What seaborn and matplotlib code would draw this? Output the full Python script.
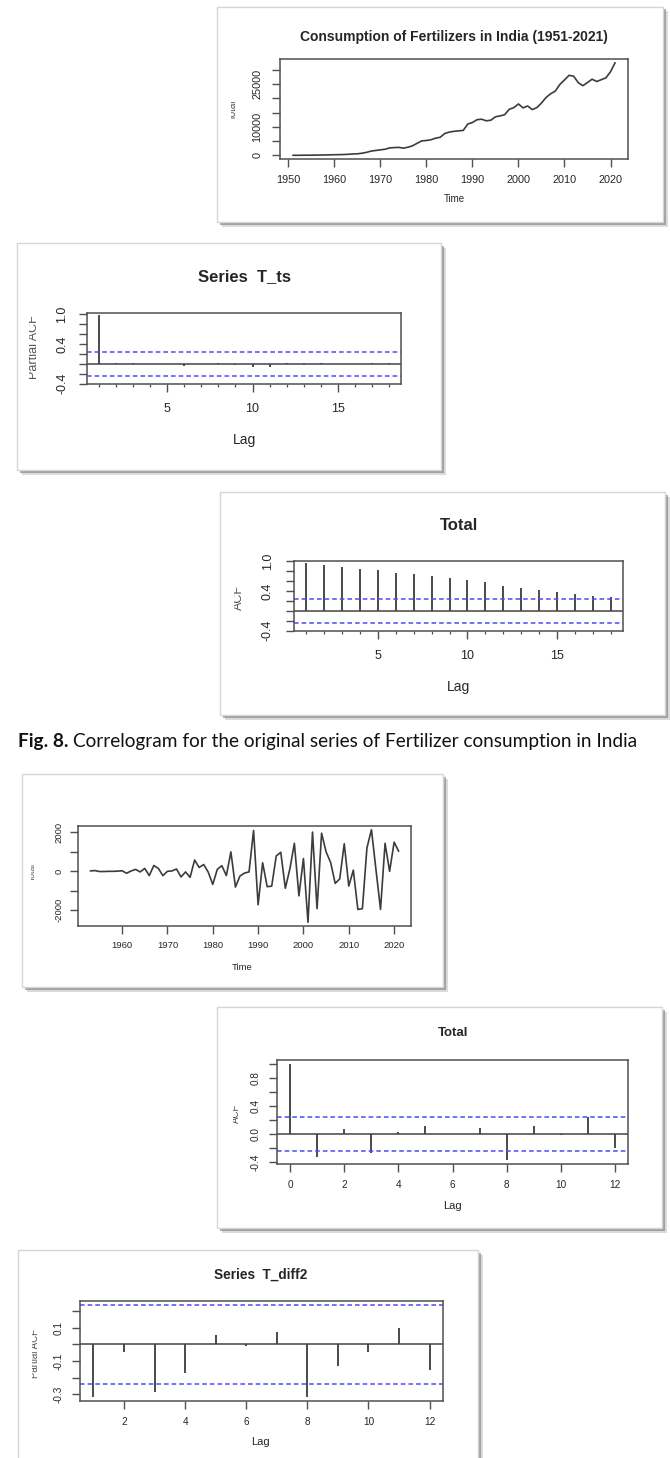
import matplotlib
matplotlib.use("Agg")
import matplotlib.pyplot as plt
from matplotlib.patches import Rectangle
from matplotlib.transforms import Bbox, TransformedBbox
import seaborn as sns

W, H = 670, 1458

# fertilizer consumption, 1951-2021
years = list(range(1951, 2022))
total = [70, 66, 86, 95, 105, 131, 154, 185, 224, 270, 292, 338, 416, 535, 595,
         785, 1101, 1539, 1761, 1982, 2177, 2657, 2768, 2839, 2573, 2894, 3411,
         4286, 5117, 5256, 5516, 6064, 6388, 7710, 8211, 8474, 8645, 8784, 11040,
         11568, 12546, 12728, 12155, 12366, 13564, 13876, 14308, 16188, 16798,
         18069, 16702, 17360, 16094, 16798, 18398, 20340, 21652, 22570, 24909,
         26486, 28122, 27790, 25536, 24482, 25581, 26753, 25949, 26588, 27227,
         29368, 32540]

# twice differenced series, 1953-2021
diff_years = list(range(1953, 2022))
diff2 = [20, 40, -10, -10, 0, 0, 10, 30, -100, 20, 100, -30, 150, -220, 300, 150,
         -220, 0, 20, 120, -290, -30, -310, 580, 200, 350, -40, -670, 100, 290,
         -220, 1000, -810, -240, -90, -30, 2100, -1720, 440, -790, -760, 790, 980,
         -870, 120, 1440, -1260, 660, -2620, 2020, -1920, 1960, 1000, 450, -620,
         -390, 1420, -760, 60, -1960, -1920, 1200, 2140, 70, -1960, 1440, 0, 1500,
         1030]

lags18 = list(range(1, 19))
pacf_orig = [0.976, 0.02, 0.02, 0.0, 0.0, -0.04, 0.0, 0.01, -0.03, -0.07, -0.06,
             0.01, 0.01, 0.01, 0.0, 0.0, 0.01, 0.02]
acf_orig = [0.976, 0.923, 0.889, 0.855, 0.822, 0.774, 0.741, 0.707, 0.673, 0.626,
            0.579, 0.512, 0.471, 0.424, 0.377, 0.343, 0.310, 0.276]

lags0_12 = list(range(0, 13))
acf_d2 = [1.0, -0.324, 0.067, -0.267, 0.024, 0.119, -0.005, 0.081, -0.371, 0.119,
          -0.01, 0.248, -0.195]
lags1_12 = list(range(1, 13))
pacf_d2 = [-0.315, -0.046, -0.289, -0.174, 0.057, -0.008, 0.075, -0.319, -0.129,
           -0.048, 0.099, -0.154]

band_orig = 0.237
band_d2 = 0.238

caption_bold = 'Fig. 8.'
caption_text = 'Correlogram for the original series of Fertilizer consumption in India'

sns.set_theme(style="white")
plt.rcParams['font.family'] = ['Liberation Sans', 'DejaVu Sans']

fig = plt.figure(figsize=(W / 100, H / 100), dpi=100)
fig.patch.set_facecolor('white')

TXT = '#262626'
AXC = '#505050'
LINE = '#3c3c3c'


def fx(x):
    return x / W


def fy(y):
    return 1 - y / H


def frame(x0, y0, x1, y1):
    for off, a in [(4.5, 0.25), (2.5, 0.55)]:
        fig.add_artist(Rectangle((fx(x0 + off), fy(y1 + off)), (x1 - x0) / W, (y1 - y0) / H,
                                 transform=fig.transFigure, facecolor='#707070',
                                 edgecolor='none', alpha=a, zorder=0))
    fig.add_artist(Rectangle((fx(x0), fy(y1)), (x1 - x0) / W, (y1 - y0) / H,
                             transform=fig.transFigure, facecolor='white',
                             edgecolor='#d6d6d6', lw=1, zorder=1))


def panel(x0, y0, x1, y1, fs, xpad, ypad):
    ax = fig.add_axes([fx(x0), fy(y1), (x1 - x0) / W, (y1 - y0) / H], zorder=2)
    ax.set_facecolor('white')
    for s in ax.spines.values():
        s.set_color(AXC)
        s.set_linewidth(1.1)
    ax.tick_params(axis='both', which='major', direction='out', length=5.5, width=1.0,
                   color=AXC, labelcolor=TXT, labelsize=fs, left=True, bottom=True)
    ax.tick_params(axis='x', pad=xpad)
    ax.tick_params(axis='y', pad=ypad)
    ax.grid(False)
    return ax


def text(x, y, s, size, weight='normal', rot=0, color=TXT, clip_x=None):
    t = fig.text(fx(x), fy(y), s, fontsize=size, fontweight=weight, rotation=rot,
                 ha='center', va='center', color=color, zorder=5)
    if clip_x is not None:
        bb = TransformedBbox(Bbox([[fx(clip_x), 0], [1, 1]]), fig.transFigure)
        t.set_clip_box(bb)
        t.set_clip_on(True)
    return t


def acf_axes(ax, lags, vals, band, pad=0.04):
    ax.vlines(lags, 0, vals, color=LINE, lw=1.3)
    ax.axhline(0, color='#444444', lw=1.1)
    for b in (band, -band):
        ax.axhline(b, color='#4c4cf5', lw=1.1, ls=(0, (3, 2)))
    span = max(lags) - min(lags)
    ax.set_xlim(min(lags) - pad * span, max(lags) + pad * span)


# ---------- panel 1: original series ----------
frame(217, 7, 663, 222)
ax1 = panel(280, 59, 628, 159, 7.8, 6, 7)
sns.lineplot(x=years, y=total, ax=ax1, color=LINE, lw=1.2)
ax1.margins(x=0.04, y=0.04)
ax1.set_xticks(range(1950, 2021, 10))
ax1.set_yticks(range(0, 30001, 5000))
ax1.set_yticklabels(['0', '', '10000', '', '', '25000', ''], rotation=90, va='center')
ax1.set_xlabel('')
ax1.set_ylabel('')
text(454, 37, 'Consumption of Fertilizers in India (1951-2021)', 10, 'bold')
text(454, 199, 'Time', 7)
text(233, 110, 'Total', 7, rot=90, color='#555555', clip_x=230.5)

# ---------- panel 2: PACF of original ----------
frame(17, 243, 441, 470)
ax2 = panel(87, 313, 401, 384, 9, 8, 8)
acf_axes(ax2, lags18, pacf_orig, band_orig)
ax2.set_ylim(-0.404, 1.02)
ax2.set_xticks([5, 10, 15])
ax2.set_xticks(lags18, minor=True)
ax2.tick_params(axis='x', which='minor', direction='out', length=2.5, width=0.9,
                color=AXC, bottom=True)
ax2.set_yticks([-0.4, -0.2, 0, 0.2, 0.4, 0.6, 0.8, 1.0])
ax2.set_yticklabels(['-0.4', '', '', '', '0.4', '', '', '1.0'], rotation=90, va='center')
text(244, 277, 'Series  T_ts', 12, 'bold')
text(244, 440, 'Lag', 10)
text(34, 347, 'Partial ACF', 9, rot=90, color='#555555', clip_x=29.5)

# ---------- panel 3: ACF of original ----------
frame(220, 492, 665, 715)
ax3 = panel(294, 561, 623, 631, 9, 8, 9)
acf_axes(ax3, lags18, acf_orig, band_orig)
ax3.set_ylim(-0.404, 1.01)
ax3.set_xticks([5, 10, 15])
ax3.set_xticks(lags18, minor=True)
ax3.tick_params(axis='x', which='minor', direction='out', length=2.5, width=0.9,
                color=AXC, bottom=True)
ax3.set_yticks([-0.4, -0.2, 0, 0.2, 0.4, 0.6, 0.8, 1.0])
ax3.set_yticklabels(['-0.4', '', '', '', '0.4', '', '', '1.0'], rotation=90, va='center')
text(459, 525, 'Total', 12, 'bold')
text(459, 687, 'Lag', 10)
text(239, 597, 'ACF', 9, rot=90, color='#555555', clip_x=234.5)

# ---------- caption, sized to span the same width as the reference ----------
cap_fs = 11.5
cap1 = fig.text(fx(18), fy(741), caption_bold, fontsize=cap_fs, fontweight='bold',
                family=['Lato', 'DejaVu Sans'], ha='left', va='center', color='#111111')
cap2 = fig.text(fx(18), fy(741), caption_text, fontsize=cap_fs,
                family=['Lato', 'DejaVu Sans'], ha='left', va='center', color='#111111')
fig.canvas.draw()
r = fig.canvas.get_renderer()
w_now = cap1.get_window_extent(r).width + 4 + cap2.get_window_extent(r).width
cap_fs = cap_fs * 620 / w_now
cap1.set_fontsize(cap_fs)
cap2.set_fontsize(cap_fs)
fig.canvas.draw()
bb = cap1.get_window_extent(r)
cap2.set_x((bb.x1 + 4.5) / W)

# ---------- panel 4: differenced series ----------
frame(22, 774, 443, 987)
ax4 = panel(78, 826, 411, 926, 6.8, 5, 5)
sns.lineplot(x=diff_years, y=diff2, ax=ax4, color=LINE, lw=1.2)
ax4.margins(x=0.04, y=0.04)
ax4.set_xticks(range(1960, 2021, 10))
ax4.set_yticks([-2000, -1000, 0, 1000, 2000])
ax4.set_yticklabels(['-2000', '', '0', '', '2000'], rotation=90, va='center')
ax4.set_xlabel('')
ax4.set_ylabel('')
text(242, 967, 'Time', 6.8)
text(33, 872, 'Total', 6, rot=90, color='#555555', clip_x=30.5)

# ---------- panel 5: ACF of differenced ----------
frame(217, 1007, 662, 1228)
ax5 = panel(277, 1060, 628, 1164, 7.2, 6, 6)
acf_axes(ax5, lags0_12, acf_d2, band_d2)
lo = min(min(acf_d2), -band_d2)
hi = max(max(acf_d2), band_d2)
ax5.set_ylim(lo - 0.04 * (hi - lo), hi + 0.04 * (hi - lo))
ax5.set_xticks(range(0, 13, 2))
ax5.set_yticks([-0.4, -0.2, 0, 0.2, 0.4, 0.6, 0.8, 1.0])
ax5.set_yticklabels(['-0.4', '', '0.0', '', '0.4', '', '0.8', ''], rotation=90, va='center')
text(453, 1033, 'Total', 9.5, 'bold')
text(452, 1206, 'Lag', 8)
text(236, 1113, 'ACF', 7, rot=90, color='#555555', clip_x=232.5)

# ---------- panel 6: PACF of differenced ----------
frame(18, 1250, 478, 1470)
ax6 = panel(80, 1301, 443, 1401, 7.2, 6, 6)
acf_axes(ax6, lags1_12, pacf_d2, band_d2)
lo = min(min(pacf_d2), -band_d2)
hi = max(max(pacf_d2), band_d2)
ax6.set_ylim(lo - 0.04 * (hi - lo), hi + 0.04 * (hi - lo))
ax6.set_xticks(range(2, 13, 2))
ax6.set_yticks([-0.3, -0.2, -0.1, 0, 0.1, 0.2])
ax6.set_yticklabels(['-0.3', '', '-0.1', '', '0.1', ''], rotation=90, va='center')
text(261, 1275, 'Series  T_diff2', 9.8, 'bold')
text(260, 1442, 'Lag', 8)
text(35, 1353, 'Partial ACF', 7, rot=90, color='#555555', clip_x=31.5)

fig.savefig('out.png', dpi=100, facecolor='white')
